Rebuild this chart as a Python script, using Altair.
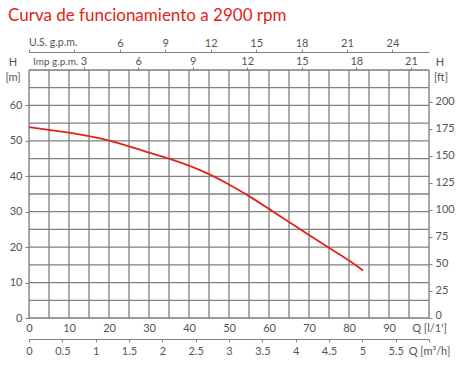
import altair as alt
import pandas as pd

title_text = "Curva de funcionamiento a 2900 rpm"

# pump curve (flow in l/min, head in m)
flow_lpm = [0, 10, 20, 30, 35, 40, 45, 50, 55, 60, 65, 70, 75, 80, 83.5]
head_m = [53.9, 52.3, 50.1, 46.7, 45.0, 43.0, 40.6, 37.7, 34.4, 30.8, 27.1, 23.4, 19.8, 16.2, 13.4]

# axes / grid
grid_q = list(range(0, 101, 5))
grid_h = list(range(0, 71, 5))
q_ticks = list(range(0, 101, 10))
h_ticks = list(range(0, 61, 10))
ft_ticks = list(range(0, 201, 25))
m3h_ticks = [0, 0.5, 1, 1.5, 2, 2.5, 3, 3.5, 4, 4.5, 5, 5.5, 6]
imp_ticks = [3, 6, 9, 12, 15, 18, 21]
us_ticks = [0, 3, 6, 9, 12, 15, 18, 21, 24]

Q_MAX = 100
H_MAX = 70
US_MAX = Q_MAX / 3.78541
IMP_MAX = Q_MAX / 4.54609
M3H_MAX = Q_MAX * 60 / 1000
FT_MAX = H_MAX / 0.3048

W, HGT = 400, 248
FONT = "Lato"
LABEL_COLOR = "#555555"
GRID = "#808080"
RED = "#e2231a"

curve_df = pd.DataFrame({"q": flow_lpm, "h": head_m})

qscale = alt.Scale(domain=[0, Q_MAX], nice=False, zero=True)
hscale = alt.Scale(domain=[0, H_MAX], nice=False, zero=True)

common_axis = dict(labelFont=FONT, labelFontSize=11, labelColor=LABEL_COLOR,
                   tickColor=GRID, domainColor=GRID, grid=False, title=None,
                   labelFlush=False, labelOverlap=False)

vgrid = alt.Chart(pd.DataFrame({"q": grid_q})).mark_rule(
    color=GRID, strokeWidth=1.3).encode(
    x=alt.X("q:Q", scale=qscale, axis=None))

hgrid = alt.Chart(pd.DataFrame({"h": grid_h})).mark_rule(
    color=GRID, strokeWidth=1.3).encode(
    y=alt.Y("h:Q", scale=hscale, axis=None))

curve = alt.Chart(curve_df).mark_line(
    color=RED, strokeWidth=1.8, interpolate="monotone").encode(
    x=alt.X("q:Q", scale=qscale, axis=alt.Axis(
        orient="bottom", values=q_ticks, domain=False, ticks=False,
        labelPadding=4,
        labelExpr="datum.value == 100 ? \"Q [l/1']\" : datum.label",
        **common_axis)),
    y=alt.Y("h:Q", scale=hscale, axis=alt.Axis(
        orient="left", values=h_ticks, domain=False, tickSize=4,
        labelPadding=3, **common_axis)),
)

m3h_axis = alt.Chart(pd.DataFrame({"v": m3h_ticks})).mark_point(opacity=0).encode(
    x=alt.X("v:Q", scale=alt.Scale(domain=[0, M3H_MAX], nice=False), axis=alt.Axis(
        orient="bottom", offset=21, values=m3h_ticks, tickSize=3, labelPadding=3,
        labelExpr="datum.value == 6 ? 'Q [m³/h]' : format(datum.value, '~g')",
        **common_axis)))

ft_axis = alt.Chart(pd.DataFrame({"v": ft_ticks})).mark_point(opacity=0).encode(
    y=alt.Y("v:Q", scale=alt.Scale(domain=[0, FT_MAX], nice=False), axis=alt.Axis(
        orient="right", values=ft_ticks, domain=False, tickSize=3, labelPadding=3,
        labelOffset={"condition": {"test": "datum.value == 0", "value": -3}, "value": -1},
        **common_axis)))

imp_axis = alt.Chart(pd.DataFrame({"v": imp_ticks})).mark_point(opacity=0).encode(
    x=alt.X("v:Q", scale=alt.Scale(domain=[0, IMP_MAX], nice=False), axis=alt.Axis(
        orient="top", values=imp_ticks, domain=False, tickSize=3, labelPadding=1,
        **common_axis)))

us_axis = alt.Chart(pd.DataFrame({"v": us_ticks})).mark_point(opacity=0).encode(
    x=alt.X("v:Q", scale=alt.Scale(domain=[0, US_MAX], nice=False), axis=alt.Axis(
        orient="top", offset=18, values=us_ticks, tickSize=3, labelPadding=1,
        labelExpr="datum.value < 4 ? '' : datum.label",
        **common_axis)))


def label(text, x, y, align="center", size=11, color=LABEL_COLOR, baseline="middle"):
    return alt.Chart(pd.DataFrame({"t": [text]})).mark_text(
        font=FONT, fontSize=size, color=color, align=align, baseline=baseline).encode(
        text="t:N", x=alt.value(x), y=alt.value(y))


title = label(title_text, -21, -49, align="left", size=17, color=RED, baseline="alphabetic")
h_left = label("H", -16, -7)
m_left = label("[m]", -16, 8)
h_right = label("H", 411, -7)
ft_right = label("[ft]", 412, 8)
imp_lbl = label("Imp g.p.m.", 4, -8, align="left", size=10)
us_lbl = label("U.S. g.p.m.", 0, -27, align="left", size=10.5)

chart = alt.layer(
    vgrid, hgrid, curve, m3h_axis, ft_axis, imp_axis, us_axis,
    title, h_left, m_left, h_right, ft_right, imp_lbl, us_lbl,
).resolve_scale(x="independent", y="independent").properties(
    width=W, height=HGT,
    autosize=alt.AutoSizeParams(type="none"),
    padding={"left": 29, "top": 70, "right": 35, "bottom": 49},
).configure_view(stroke=GRID, strokeWidth=1.3).configure(background="white")

chart.save("out.html", embed_options={"renderer": "svg", "actions": False})
